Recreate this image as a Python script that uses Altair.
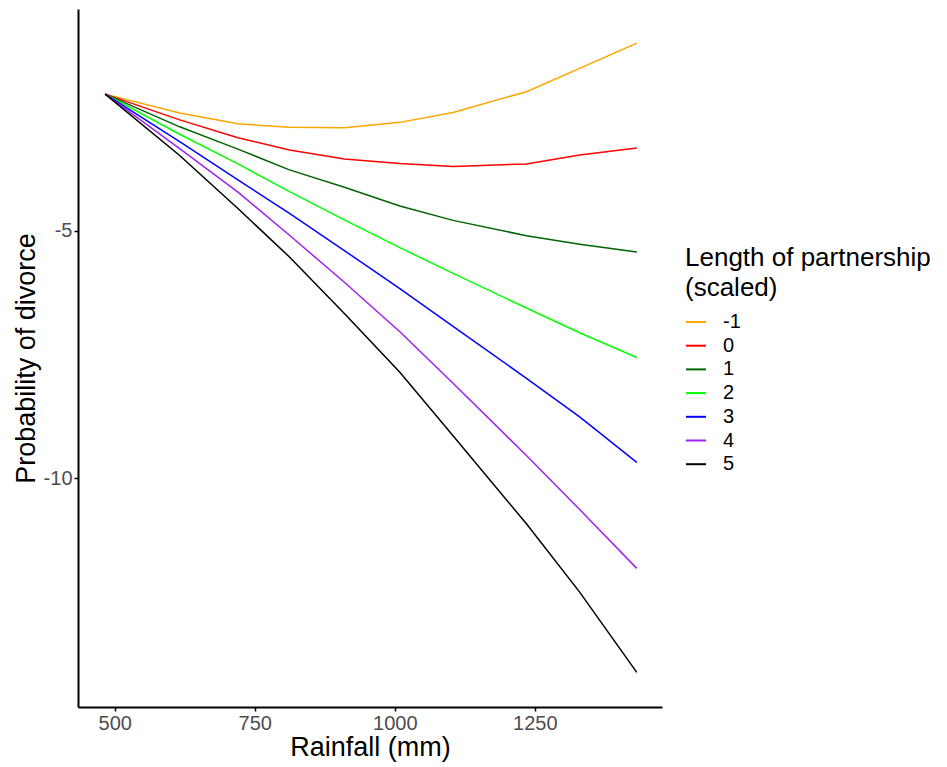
import altair as alt
import pandas as pd

# Rainfall (mm) positions at which the curves are read
rainfall = [483, 616, 720, 812, 910, 1009, 1104, 1235, 1330, 1432]

# Length of partnership (scaled) categories
groups = ["-1", "0", "1", "2", "3", "4", "5"]
colors = ["#FFA500", "#FF0000", "#006400", "#00FF00", "#0000FF", "#A020F0", "#000000"]

# Predicted values for each group
s_m1 = [-2.24, -2.62, -2.84, -2.91, -2.92, -2.81, -2.61, -2.19, -1.72, -1.21]
s_0 = [-2.24, -2.76, -3.12, -3.37, -3.55, -3.64, -3.70, -3.65, -3.47, -3.33]
s_1 = [-2.24, -2.90, -3.35, -3.77, -4.12, -4.50, -4.79, -5.10, -5.27, -5.43]
s_2 = [-2.24, -3.05, -3.65, -4.21, -4.78, -5.34, -5.86, -6.56, -7.06, -7.56]
s_3 = [-2.24, -3.20, -3.97, -4.65, -5.40, -6.17, -6.93, -7.98, -8.76, -9.68]
s_4 = [-2.24, -3.34, -4.22, -5.09, -6.04, -7.04, -8.08, -9.54, -10.63, -11.82]
s_5 = [-2.24, -3.48, -4.55, -5.53, -6.67, -7.86, -9.14, -10.92, -12.30, -13.92]

x_ticks = [500, 750, 1000, 1250]
y_ticks = [-10, -5]

series = [s_m1, s_0, s_1, s_2, s_3, s_4, s_5]
rows = []
for g, vals in zip(groups, series):
    for r, v in zip(rainfall, vals):
        rows.append({"rain": r, "prob": v, "group": g})
df = pd.DataFrame(rows)

FONT = "Liberation Sans"

chart = alt.Chart(df).mark_line(strokeWidth=1.5).encode(
    x=alt.X("rain:Q",
            scale=alt.Scale(domain=[434.5, 1477], nice=False, zero=False),
            axis=alt.Axis(title="Rainfall (mm)", values=x_ticks, grid=False,
                          labelExpr="toString(datum.value)",
                          domainColor="black", domainWidth=2, tickColor="black",
                          tickWidth=1.5, tickSize=4, labelPadding=2,
                          labelColor="#4D4D4D", labelFontSize=20, labelFont=FONT,
                          titleFont=FONT, titleFontSize=27, titleFontWeight="normal",
                          titleColor="black", titlePadding=1)),
    y=alt.Y("prob:Q",
            scale=alt.Scale(domain=[-14.62, -0.52], nice=False, zero=False),
            axis=alt.Axis(title="Probability of divorce", values=y_ticks, grid=False,
                          labelExpr="toString(datum.value)",
                          domainColor="black", domainWidth=2, tickColor="black",
                          tickWidth=1.5, tickSize=4, labelPadding=2,
                          labelColor="#4D4D4D", labelFontSize=20, labelFont=FONT,
                          titleFont=FONT, titleFontSize=27, titleFontWeight="normal",
                          titleColor="black", titlePadding=3)),
    color=alt.Color("group:N",
                    sort=groups,
                    scale=alt.Scale(domain=groups, range=colors),
                    legend=alt.Legend(title=["Length of partnership", "(scaled)"],
                                      orient="none", legendX=607, legendY=236,
                                      titleFont=FONT, titleFontSize=26, titleLimit=400,
                                      titleFontWeight="normal", titleColor="black",
                                      titlePadding=10, titleLineHeight=30,
                                      labelFont=FONT, labelFontSize=20,
                                      labelColor="black", labelOffset=16,
                                      symbolType="stroke", symbolSize=400,
                                      symbolStrokeWidth=2, rowPadding=2.7)),
).properties(
    width=584, height=698,
    background="white",
    autosize=alt.AutoSizeParams(type="none"),
    padding={"left": 78, "top": 9, "right": 285, "bottom": 60},
).configure_view(strokeWidth=0, stroke=None)

chart.save("out.html", embed_options={"renderer": "svg", "actions": False})
